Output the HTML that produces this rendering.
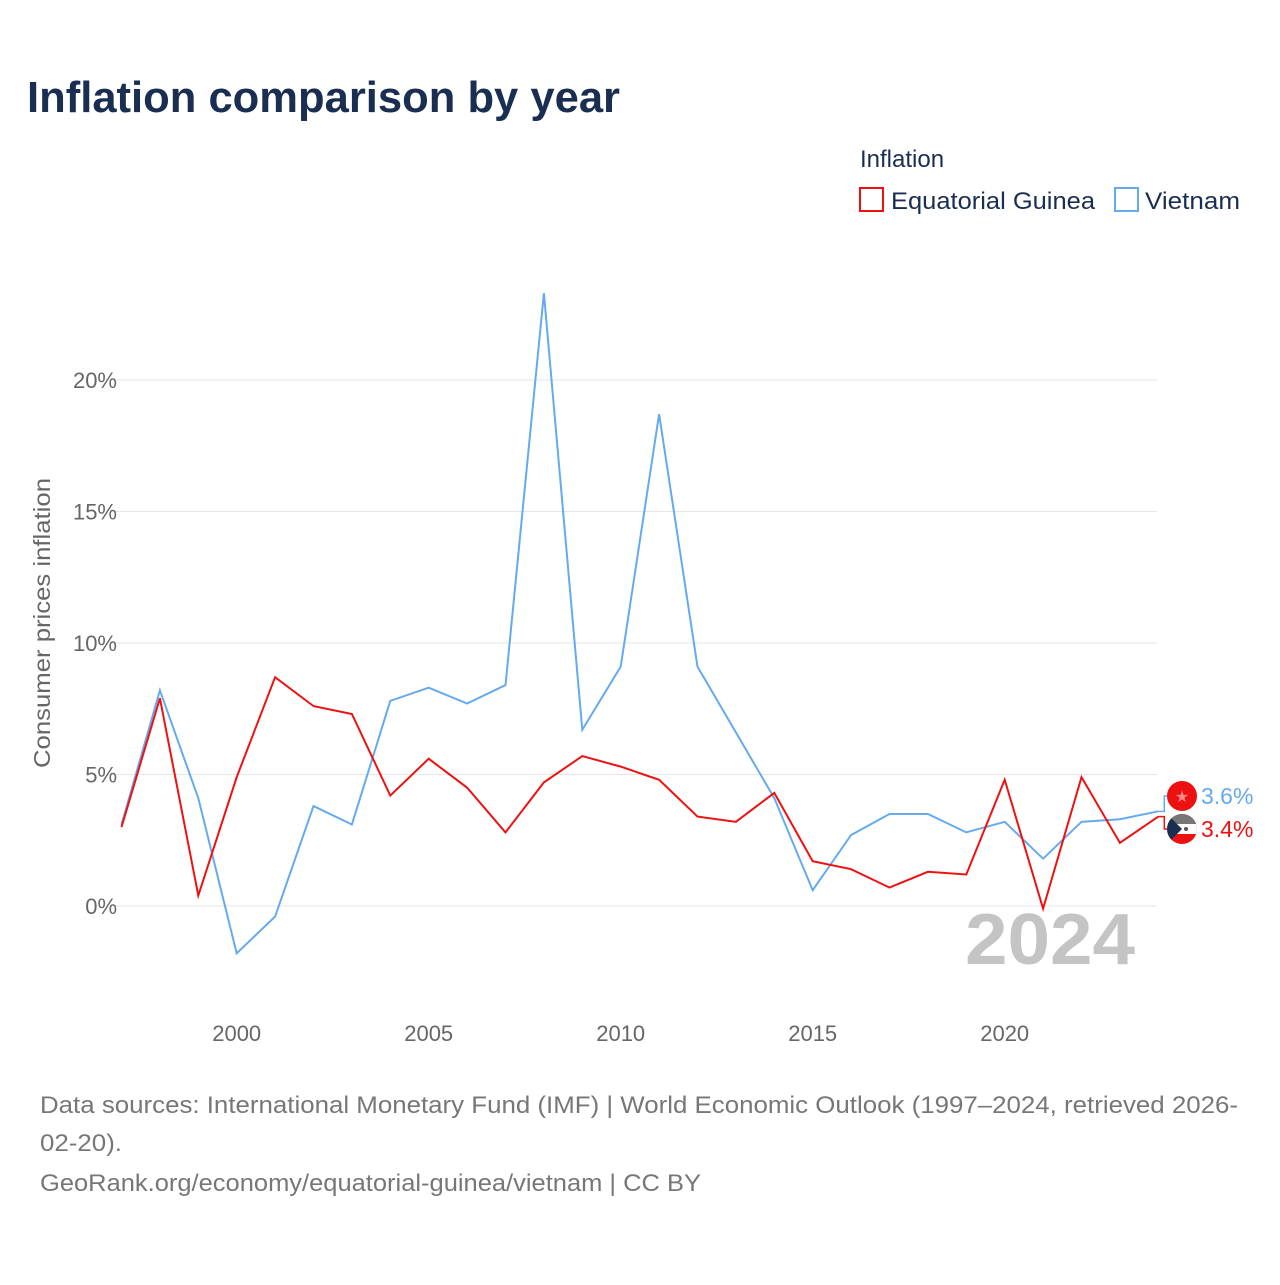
<!DOCTYPE html>
<html><head><meta charset="utf-8"><style>
body{margin:0;width:1280px;height:1280px;background:#fff;font-family:"Liberation Sans",sans-serif;overflow:hidden}
</style></head><body>
<svg id="c" width="1280" height="1280" xmlns="http://www.w3.org/2000/svg">
<defs><clipPath id="fc"><circle cx="1182" cy="829" r="15"/></clipPath></defs>
<text x="27" y="112" font-size="44" font-weight="bold" fill="#1a2e52" textLength="593" lengthAdjust="spacingAndGlyphs">Inflation comparison by year</text>
<text x="860" y="167" font-size="24" fill="#1a2e52">Inflation</text>
<g><rect x="860" y="188" width="23" height="23" fill="none" stroke="#ee1111" stroke-width="2"/><text x="891" y="209" font-size="24" fill="#1a2e52" textLength="204" lengthAdjust="spacingAndGlyphs">Equatorial Guinea</text></g>
<g><rect x="1115" y="188" width="23" height="23" fill="none" stroke="#66aaee" stroke-width="2"/><text x="1145" y="209" font-size="24" fill="#1a2e52" textLength="95" lengthAdjust="spacingAndGlyphs">Vietnam</text></g>
<text transform="translate(50,623) rotate(-90)" text-anchor="middle" font-size="23" fill="#666" textLength="290" lengthAdjust="spacingAndGlyphs">Consumer prices inflation</text>
<g id="grid"></g><g id="lines"></g>
<text x="1135" y="964" text-anchor="end" font-size="72" font-weight="bold" fill="#c4c4c4" textLength="170" lengthAdjust="spacingAndGlyphs">2024</text>
<text x="40" y="1113" font-size="24" fill="#777" textLength="1198" lengthAdjust="spacingAndGlyphs">Data sources: International Monetary Fund (IMF) | World Economic Outlook (1997–2024, retrieved 2026-</text>
<text x="40" y="1151" font-size="24" fill="#777" textLength="82" lengthAdjust="spacingAndGlyphs">02-20).</text>
<text x="40" y="1191" font-size="24" fill="#777" textLength="661" lengthAdjust="spacingAndGlyphs">GeoRank.org/economy/equatorial-guinea/vietnam | CC BY</text>
</svg>
<script>
const years=[1997,1998,1999,2000,2001,2002,2003,2004,2005,2006,2007,2008,2009,2010,2011,2012,2013,2014,2015,2016,2017,2018,2019,2020,2021,2022,2023,2024];
const vietnam=[3.1,8.2,4.1,-1.8,-0.4,3.8,3.1,7.8,8.3,7.7,8.4,23.3,6.7,9.1,18.7,9.1,6.6,4.1,0.6,2.7,3.5,3.5,2.8,3.2,1.8,3.2,3.3,3.6];
const eqGuinea=[3.0,7.9,0.4,4.9,8.7,7.6,7.3,4.2,5.6,4.5,2.8,4.7,5.7,5.3,4.8,3.4,3.2,4.3,1.7,1.4,0.7,1.3,1.2,4.8,-0.1,4.9,2.4,3.4];
const yTicks=[0,5,10,15,20];
const xTicks=[2000,2005,2010,2015,2020];
const NS="http://www.w3.org/2000/svg";
const X=y=>121.5+(y-1997)*38.4, Y=v=>906-v*26.3;
function mk(t,a,p){const e=document.createElementNS(NS,t);for(const k in a)e.setAttribute(k,a[k]);p.appendChild(e);return e;}
const g=document.getElementById('grid'),L=document.getElementById('lines');
yTicks.forEach(v=>{
 const l=mk('line',{x1:110,x2:1157,y1:Y(v),y2:Y(v),stroke:'#e6e6e6','stroke-width':1},g);
 
 
 const t=mk('text',{x:117,y:Y(v)+8,'text-anchor':'end','font-size':22,fill:'#666'},g);t.textContent=v+'%';
 
 
});
xTicks.forEach(v=>{
 const t=mk('text',{x:X(v),y:1041,'text-anchor':'middle','font-size':22,fill:'#666'},g);t.textContent=v;
 
 
});
function line(d,c,n){
 const p=mk('polyline',{points:d.map((v,i)=>X(years[i])+','+Y(v)).join(' '),fill:'none',stroke:c,'stroke-width':2},L);
 
 
}
line(vietnam,'#66aaee','line-vietnam');
line(eqGuinea,'#ee1111','line-equatorial-guinea');
const lv=vietnam[vietnam.length-1], le=eqGuinea[eqGuinea.length-1];
const vy=796, ey=829, x0=X(2024);
mk('polyline',{points:`${x0},${Y(lv)} ${x0+6},${Y(lv)} ${x0+6},${vy} ${x0+12},${vy}`,fill:'none',stroke:'#66aaee','stroke-width':1.5},L);
mk('polyline',{points:`${x0},${Y(le)} ${x0+6},${Y(le)} ${x0+6},${ey} ${x0+12},${ey}`,fill:'none',stroke:'#ee1111','stroke-width':1.5},L);
const f1=mk('circle',{cx:1182,cy:vy,r:15,fill:'#ee1111'},L);


const st=mk('text',{x:1182,y:vy+6,'text-anchor':'middle','font-size':16,fill:'#ff8888'},L);st.textContent='★';
const fg=mk('g',{'clip-path':'url(#fc)'},L);


mk('rect',{x:1167,y:ey-15,width:30,height:30,fill:'#ee1111'},fg);
mk('rect',{x:1167,y:ey-15,width:30,height:10,fill:'#777'},fg);
mk('rect',{x:1167,y:ey-5,width:30,height:10,fill:'#fff'},fg);
mk('path',{d:`M1167,${ey-15} L1182,${ey} L1167,${ey+15} Z`,fill:'#1a2e52'},fg);
mk('circle',{cx:1186,cy:ey,r:2,fill:'#555'},fg);
const t1=mk('text',{x:1201,y:vy+8,'font-size':23,fill:'#66aaee'},L);t1.textContent=lv.toFixed(1)+'%';


const t2=mk('text',{x:1201,y:ey+8,'font-size':23,fill:'#ee1111'},L);t2.textContent=le.toFixed(1)+'%';


</script>
</body></html>
